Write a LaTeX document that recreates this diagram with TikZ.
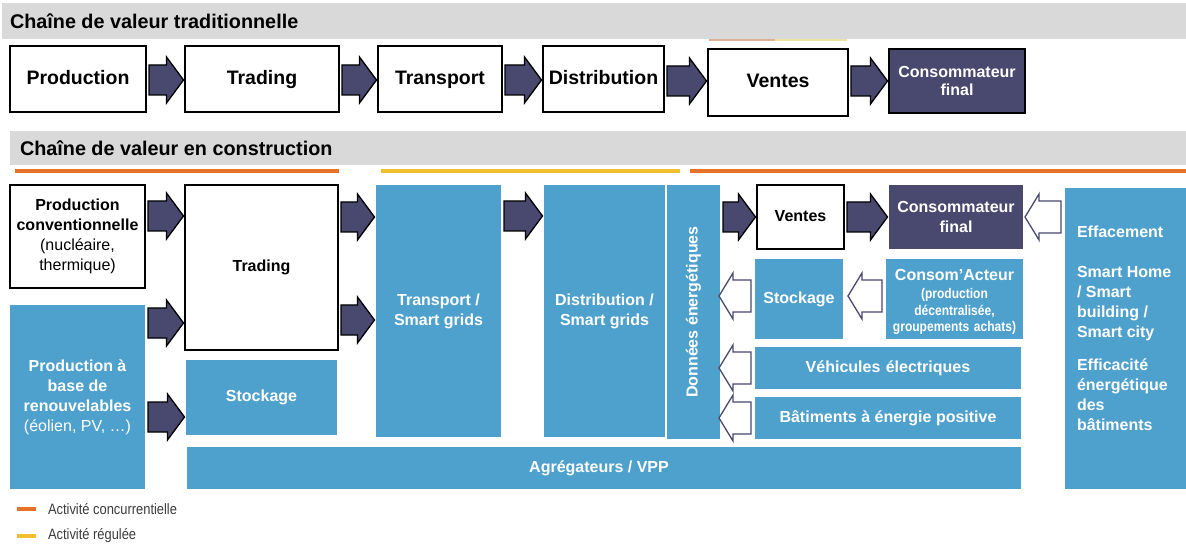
\documentclass[tikz,border=0pt]{standalone}
\usepackage{fontspec}
\setmainfont{Liberation Sans}
\newfontfamily\narrowsans[FakeStretch=0.86]{Liberation Sans}
\usetikzlibrary{calc}

\definecolor{bandgray}{RGB}{217,217,217}
\definecolor{ebleu}{RGB}{79,161,205}
\definecolor{navy}{RGB}{73,72,110}
\definecolor{concorange}{RGB}{232,114,42}
\definecolor{regyellow}{RGB}{242,192,46}
\definecolor{paleorange}{RGB}{222,176,150}
\definecolor{paleyellow}{RGB}{236,228,160}
\definecolor{legendgray}{RGB}{60,60,60}

% font sizes (1pt = 1px of the final picture)
\newcommand\fsbig{\fontsize{19.5}{23}\selectfont}
\newcommand\fstitle{\fontsize{19.8}{23}\selectfont}
\newcommand\fsmid{\fontsize{16}{20}\selectfont}
\newcommand\fssmall{\narrowsans\fontsize{14}{16}\selectfont}
\newcommand\fslegend{\narrowsans\fontsize{15}{17}\selectfont}

% a rectangle node given by its corners
\newcommand\boxat[7]{%
  \node[#2, minimum width={#5-#3}, minimum height={#6-#4}] (#1)
    at ({(#3+#5)/2},{(#4+#6)/2}) {#7};}

% dark block arrow from the east side of #1 to the west side of #2, at height #3
\newcommand\fwdarrow[3]{%
  \coordinate (fa-s) at ($(#1.east |- 0,#3)+(3,0)$);
  \coordinate (fa-e) at ($(#2.west |- 0,#3)+(-1.5,0)$);
  \coordinate (fa-h) at ($(fa-e)+(-17,0)$);
  \draw[solidarrow] ($(fa-s)+(0,-15)$) -- ($(fa-h)+(0,-15)$) -- ($(fa-h)+(0,-23)$)
    -- (fa-e) -- ($(fa-h)+(0,23)$) -- ($(fa-h)+(0,15)$) -- ($(fa-s)+(0,15)$) -- cycle;}

% hollow block arrow from the west side of #2 back to the east side of #3, at height #4
\newcommand\backarrow[4][2]{%
  \coordinate (ba-s) at ($(#2.west |- 0,#4)+(-4,0)$);
  \coordinate (ba-e) at ($(#3.east |- 0,#4)+(#1,0)$);
  \coordinate (ba-h) at ($(ba-e)+(14,0)$);
  \draw[hollowarrow] ($(ba-s)+(0,-16)$) -- ($(ba-h)+(0,-16)$) -- ($(ba-h)+(0,-23)$)
    -- (ba-e) -- ($(ba-h)+(0,23)$) -- ($(ba-h)+(0,16)$) -- ($(ba-s)+(0,16)$) -- cycle;}

\tikzset{
  every node/.style={inner sep=0pt, outer sep=0pt},
  whitebox/.style={fill=white, draw=black, line width=1.8pt, align=center},
  bluebox/.style={fill=ebleu, text=white, align=center},
  navybox/.style={fill=navy, text=white, align=center},
  bigtxt/.style={font=\fsbig\bfseries, text height=14.2pt, text depth=4.1pt},
  midtxt/.style={font=\fsmid\bfseries},
  midline/.style={midtxt, text height=11.7pt, text depth=3.4pt},
  titletxt/.style={font=\fstitle\bfseries, text=black},
  legendtxt/.style={font=\fslegend, text=legendgray},
  solidarrow/.style={fill=navy, draw=black, line width=1.3pt, line join=miter},
  hollowarrow/.style={fill=white, draw=navy, line width=1.3pt, line join=miter},
  activity/.style={line width=3.5pt}
}

\begin{document}
\begin{tikzpicture}[x=1pt, y=-1pt]
\useasboundingbox[fill=white] (0,0) rectangle (1186,545);

% ---------- traditional chain ----------
\fill[bandgray] (2,3) rectangle (1186,39);
\node[titletxt, anchor=west] (title1) at (10,21) {Chaîne de valeur traditionnelle};

\draw[paleorange, line width=2pt] (709,40) -- (775,40);
\draw[paleyellow, line width=2pt] (775,40) -- (847,40);

\boxat{p1}{whitebox,bigtxt}{10}{46}{146}{112}{Production}
\boxat{tr1}{whitebox,bigtxt}{185}{46}{339}{112}{Trading}
\boxat{tp1}{whitebox,bigtxt}{378}{46}{502}{112}{Transport}
\boxat{d1}{whitebox,bigtxt}{543}{46}{664}{112}{Distribution}
\boxat{v1}{whitebox,bigtxt}{708}{49}{848}{116}{Ventes}
\boxat{c1}{navybox,draw=black,line width=1.5pt,font=\fontsize{16}{18}\selectfont\bfseries}{889}{49}{1025}{113}{Consommateur\\final}

\fwdarrow{p1}{tr1}{80}
\fwdarrow{tr1}{tp1}{80}
\fwdarrow{tp1}{d1}{80}
\fwdarrow{d1}{v1}{81}
\fwdarrow{v1}{c1}{81}

% ---------- chain under construction ----------
\fill[bandgray] (10,131) rectangle (1186,165);
\node[titletxt, anchor=west] (title2) at (20,148) {Chaîne de valeur en construction};

\draw[activity, concorange] (15,171) -- (339,171);
\draw[activity, regyellow] (381,171) -- (680,171);
\draw[activity, concorange] (690,171) -- (1186,171);

\boxat{pc}{whitebox,midtxt}{10}{185}{145}{288}{Production\\conventionnelle\\\mdseries(nucléaire,\\\mdseries thermique)}
\boxat{tr2}{whitebox,midline}{185}{185}{338}{350}{Trading}
\boxat{pr}{bluebox,midtxt}{10}{305}{145}{489}{Production à\\base de\\renouvelables\\\mdseries(éolien, PV, …)}
\boxat{st1}{bluebox,midline}{186}{360}{337}{435}{Stockage}
\boxat{tp2}{bluebox,midtxt}{376}{185}{501}{437}{Transport /\\Smart grids}
\boxat{d2}{bluebox,midtxt}{544}{185}{665}{437}{Distribution /\\Smart grids}
\boxat{don}{bluebox}{667}{185}{720}{439}{}
\node[midline, text=white, rotate=90] (donlbl) at (don.center) {Données énergétiques};
\boxat{v2}{whitebox,midline}{757}{185}{844}{249}{Ventes}
\boxat{c2}{navybox,midtxt}{889}{185}{1023}{249}{Consommateur\\final}
\boxat{st2}{bluebox,midline}{755}{259}{843}{339}{Stockage}
\boxat{ca}{bluebox}{886}{259}{1023}{339}{}
\node[text=white, align=center, font=\fontsize{16}{16.5}\selectfont\bfseries] (calbl)
  at ($(ca.center)+(0,3)$)
  {Consom’Acteur\\[1.5pt]\fssmall(production\\\fssmall décentralisée,\\\fssmall groupements\,\,achats)};
\boxat{ve}{bluebox,midline}{755}{347}{1021}{389}{Véhicules\,\,électriques}
\boxat{ba}{bluebox,midline}{755}{397}{1021}{439}{Bâtiments à énergie positive}
\boxat{ag}{bluebox}{187}{447}{1021}{489}{}
\node[midline, text=white] (aglbl) at ($(ag.center)+(-5,0)$) {Agrégateurs / VPP};
\boxat{ef}{bluebox}{1065}{188}{1186}{489}{}
\node[midtxt, text=white, align=left, anchor=north west] (eflbl) at (1077,226)
  {Effacement\\[20pt]Smart Home\\/ Smart\\building /\\Smart city\\[13pt]Efficacité\\énergétique\\des\\bâtiments};

% flows towards the consumer
\fwdarrow{pc}{tr2}{216}
\fwdarrow{pr}{tr2}{323}
\fwdarrow{pr}{st1}{417}
\fwdarrow{tr2}{tp2}{217}
\fwdarrow{tr2}{tp2}{320}
\fwdarrow{tp2}{d2}{216}
\fwdarrow{don}{v2}{217}
\fwdarrow{v2}{c2}{217}

% flows coming back from the demand side
\backarrow{ef}{c2}{217}
\backarrow[5]{ca}{st2}{296}
\backarrow[-1]{st2}{don}{296}
\backarrow[-1]{ve}{don}{368}
\backarrow[-1]{ba}{don}{418}

% ---------- legend ----------
\draw[activity, concorange] (17,509) -- (36,509);
\node[legendtxt, anchor=west] (lg1) at (48,509) {Activité concurrentielle};
\draw[activity, regyellow] (17,536) -- (36,536);
\node[legendtxt, anchor=west] (lg2) at (48,536) {Activité régulée};
\end{tikzpicture}
\end{document}
